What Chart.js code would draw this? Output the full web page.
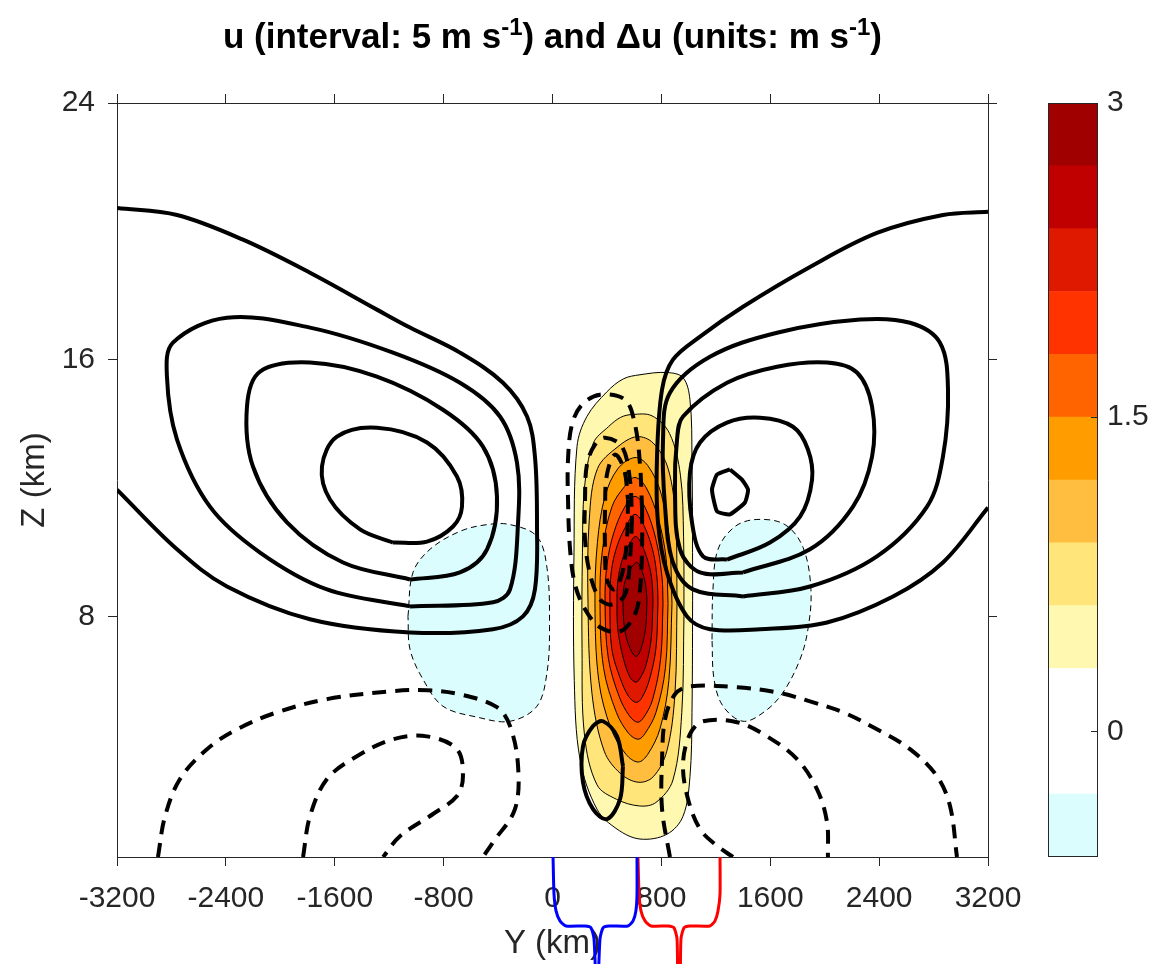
<!DOCTYPE html>
<html>
<head>
<meta charset="utf-8">
<title>u and Δu cross section</title>
<script src="https://cdn.jsdelivr.net/npm/chart.js@4.4.1/dist/chart.umd.min.js"></script>
<style>
  html, body { margin: 0; padding: 0; background: #fff; }
  #wrap { position: relative; width: 1153px; height: 964px; }
  #wrap canvas { position: absolute; left: 0; top: 0; }
</style>
</head>
<body>
<div id="wrap">
  <canvas id="section" width="1153" height="964"></canvas>
  <canvas id="colorbar" width="1153" height="964"></canvas>
</div>
<script>
// Axis ticks
const yTicks = [-3200, -2400, -1600, -800, 0, 800, 1600, 2400, 3200];
const zTicks = [8, 16, 24];
const cbTicks = [0, 1.5, 3];

// Shading levels for du (m/s) and the colour of each band between them
const duLevels = [-0.6, -0.3, 0.3, 0.6, 0.9, 1.2, 1.5, 1.8, 2.1, 2.4, 2.7, 3.0];
const duColors = ['#dcfdfd', '#ffffff', '#fff8b0', '#ffe57a', '#ffbe3f', '#ff9c00',
                  '#ff6400', '#ff3300', '#df1800', '#c00000', '#a10000'];

const titleParts = [
    { text: 'u (interval: 5 m s', sup: false },
    { text: '-1', sup: true },
    { text: ') and \u0394u (units: m s', sup: false },
    { text: '-1', sup: true },
    { text: ')', sup: false }
];

// du contours, points are [Y km, Z km]
const duNegWest = [[-312,10.86],[-114,10.49],[-40,9.5],[-22,7.69],[-40,6.26],[-114,5.2],[-312,4.73],[-555,4.86],
    [-805,5.2],[-952,6.04],[-1047,6.97],[-1062,8.0],[-1025,9.37],[-900,10.09],[-680,10.65],[-480,10.86]];
const duNegEast = [[1502,11.02],[1708,10.86],[1841,10.15],[1899,8.84],[1877,7.6],[1819,6.66],[1694,5.63],[1561,5.04],
    [1400,4.73],[1253,5.2],[1187,6.04],[1172,7.28],[1179,8.84],[1216,10.09],[1341,10.8]];

const du03 = [[643,15.53],[841,15.6],[959,15.44],[1010,14.75],[1025,12.9],[1030,9],[1025,5],[1010,3.0],[959,1.77],
    [841,1.21],[643,1.06],[474,1.37],[327,1.99],[202,3.55],[160,6],[158,10],[180,13.29],[253,14.23],[400,15.0],[520,15.4]];
const du06 = [[584,14.29],[731,14.25],[860,13.7],[940,12.4],[963,10.5],[966,8],[950,5],[885,2.9],[760,2.2],[640,2.09],
    [470,2.3],[327,2.75],[235,4.3],[217,7],[220,10],[235,12],[300,13.4],[411,13.91],[500,14.2]];
const du09 = [[620,13.6],[740,13.4],[850,12.6],[905,11],[915,8.4],[900,5.6],[840,3.8],[740,3.0],[630,2.83],[500,3.1],
    [380,3.8],[290,5.6],[261,8.4],[270,11],[330,12.6],[481,13.29]];
const du12 = [[606,12.95],[700,12.7],[800,11.8],[860,10.3],[878,8.4],[855,6],[790,4.5],[700,3.7],[630,3.46],[540,3.7],
    [430,4.5],[340,6],[312,8.4],[330,10.3],[386,11.74],[480,12.6]];
const du15 = [[606,12.33],[690,12.0],[780,11.0],[835,9.8],[849,8.4],[830,6.4],[760,5.0],[680,4.35],[630,4.17],[560,4.35],
    [470,5.0],[375,6.4],[349,8.4],[365,10.0],[437,11.42],[530,12.05]];
const du18 = [[606,11.74],[680,11.4],[760,10.4],[805,9.2],[812,8.4],[795,6.7],[735,5.4],[670,4.85],[625,4.7],[565,4.9],
    [490,5.5],[410,6.7],[386,8.4],[400,9.6],[450,10.6],[530,11.4]];
const du21 = [[606,11.18],[670,10.85],[740,10.0],[770,9.1],[775,8.4],[760,7.0],[710,6.0],[655,5.45],[615,5.32],[560,5.5],
    [495,6.1],[435,7.0],[422,8.4],[432,9.4],[475,10.2],[545,10.85]];
const du24 = [[612,10.49],[660,10.2],[715,9.5],[735,8.9],[738,8.4],[725,7.3],[685,6.45],[640,6.05],[612,5.95],[570,6.1],
    [520,6.7],[480,7.6],[474,8.4],[480,9.1],[515,9.8],[565,10.25]];
const du27 = [[620,9.68],[655,9.45],[685,8.95],[694,8.5],[686,7.7],[655,7.05],[615,6.75],[570,7.0],[530,7.6],[518,8.5],
    [528,9.0],[570,9.45]];

// u contours, westerly (solid)
const uWest1 = [[-3200,20.73],[-2759,20.51],[-2274,19.74],[-1782,18.71],[-1290,17.56],[-1047,17.0],[-680,16.22],
    [-364,15.28],[-187,14.23],[-129,12.98],[-114,10.93],[-129,8.84],[-217,8.0],[-437,7.6],[-1047,7.5],[-1782,7.91],
    [-2392,8.93],[-2759,10.09],[-3200,11.95]];
const uWest2 = [[-2789,16.53],[-2392,17.31],[-1782,17.0],[-1172,16.22],[-680,15.28],[-386,14.23],[-261,12.79],
    [-253,10.93],[-312,8.84],[-437,8.44],[-1047,8.31],[-1657,8.84],[-2149,9.99],[-2517,11.42],[-2759,13.51],[-2833,15.47]];
const uWest3 = [[-2149,15.63],[-1782,15.91],[-1290,15.47],[-805,14.44],[-511,13.29],[-408,11.74],[-481,10.09],
    [-680,9.37],[-1047,9.15],[-1539,9.68],[-1951,10.93],[-2201,12.67],[-2245,14.54]];
const uWest4 = [[-1584,13.6],[-1290,13.88],[-922,13.42],[-702,12.36],[-665,11.42],[-731,10.8],[-922,10.33],
    [-1172,10.3],[-1414,10.71],[-1635,11.64],[-1694,12.67]];
const uEast1 = [[3200,20.61],[2869,20.51],[2384,19.95],[1892,18.89],[1400,17.65],[1084,16.72],[885,16.0],[805,15.07],
    [768,12.98],[775,10.93],[841,9.37],[988,8.0],[1157,7.6],[1525,7.6],[2017,7.81],[2502,8.62],[2869,9.68],[3200,11.39]];
const uEast2 = [[863,14.97],[1157,16.09],[1650,16.84],[2260,17.25],[2627,17.15],[2847,16.53],[2906,15.07],[2869,12.98],
    [2752,11.42],[2384,9.87],[1892,8.93],[1400,8.62],[1032,8.84],[885,9.68],[827,11.42],[812,13.51]];
const uEast3 = [[959,14.23],[1282,15.28],[1650,15.78],[2017,15.91],[2237,15.6],[2348,14.54],[2348,12.98],[2208,11.42],
    [1892,10.09],[1400,9.37],[1084,9.37],[937,10.09],[900,11.95],[915,13.51]];
const uEast4 = [[1084,13.42],[1282,14.04],[1525,14.19],[1767,13.91],[1877,13.2],[1907,12.26],[1819,11.11],[1598,10.3],
    [1282,9.77],[1106,9.87],[1025,10.93],[1010,12.48]];
const uEast5 = [[1304,12.58],[1392,12.26],[1437,11.95],[1414,11.55],[1304,11.18],[1209,11.27],[1172,11.95],[1209,12.42]];
const uLowCore = [[371,4.73],[474,4.26],[518,3.33],[496,2.3],[400,1.68],[298,1.99],[224,2.83],[224,3.95],[298,4.58]];

// u contours, easterly (dashed)
const uNegWestOuter = [[-2899,0.5],[-2847,1.77],[-2737,2.93],[-2539,3.86],[-2318,4.48],[-2024,5.01],[-1657,5.42],
    [-1172,5.67],[-922,5.7],[-680,5.57],[-408,5.17],[-312,4.58],[-253,3.33],[-276,1.99],[-437,0.96],[-511,0.5]];
const uNegWestInner = [[-1833,0.5],[-1782,1.77],[-1657,2.93],[-1437,3.64],[-1172,4.17],[-922,4.26],[-702,3.86],
    [-658,3.02],[-702,2.4],[-878,1.84],[-1121,1.15],[-1245,0.5]];
const uNegEastOuter = [[863,0.5],[805,1.99],[805,3.55],[827,4.79],[900,5.57],[1010,5.82],[1356,5.79],[1650,5.63],
    [1892,5.35],[2135,5.01],[2384,4.48],[2627,3.86],[2825,3.02],[2921,2.09],[2972,0.5]];
const uNegEastInner = [[1326,0.5],[1194,0.9],[1084,1.37],[996,2.3],[959,3.39],[1010,4.33],[1106,4.73],[1356,4.7],
    [1576,4.26],[1797,3.55],[1944,2.61],[2017,1.59],[2024,0.5]];
const uNegCol1 = [[349,14.91],[533,14.75],[606,13.98],[643,12.73],[658,11.33],[658,10.09],[643,8.84],[606,8.06],
    [496,7.53],[349,7.66],[239,8.22],[165,9.0],[129,10.09],[114,11.64],[114,12.89],[143,13.98],[217,14.6]];
const uNegCol2 = [[386,13.57],[511,13.29],[569,12.26],[584,11.02],[569,9.77],[533,8.68],[437,8.37],[349,8.53],
    [276,9.31],[239,10.4],[239,11.64],[253,12.73],[312,13.35]];
const uNegCol3 = [[459,13.04],[526,12.58],[555,11.64],[547,10.4],[511,9.31],[452,8.84],[400,9.15],[386,10.09],
    [386,11.33],[400,12.42]];

// heating profiles hung below the Y axis
const forcingBlue = [[4,0.5],[11,-0.65],[26,-1.18],[55,-1.49],[99,-1.65],[239,-1.65],[283,-1.71],[305,-2.05],[320,-3.4],
    [334,-3.4],[349,-2.05],[371,-1.71],[415,-1.65],[555,-1.65],[592,-1.49],[613,-1.18],[621,-0.65],[621,0.5]];
const forcingRed = [[628,0.5],[636,-0.65],[650,-1.18],[680,-1.49],[724,-1.65],[849,-1.65],[893,-1.71],[915,-2.05],[922,-3.4],
    [937,-3.4],[944,-2.05],[966,-1.71],[1010,-1.65],[1157,-1.65],[1194,-1.49],[1216,-1.18],[1231,-0.65],[1231,0.5]];

const AXIS_COLOR = '#262626';
Chart.defaults.font.family = '"Liberation Sans", Arial, Helvetica, sans-serif';
Chart.defaults.color = AXIS_COLOR;

// closed loops start at a smooth stretch of the curve so the seam does not kink
function toPoints(arr, closed, start) {
    const k = start || 0;
    const ordered = arr.slice(k).concat(arr.slice(0, k));
    const out = ordered.map(([y, z]) => ({ x: y, y: z }));
    if (closed) out.push({ ...out[0] });
    return out;
}

function contourLine(arr, closed, dashed, start, extra) {
    return Object.assign({
        data: toPoints(arr, closed, start),
        borderColor: '#000',
        borderWidth: 4,
        borderDash: dashed ? [14, 9] : [],
        fill: false,
        tension: 0.35,
        order: 5
    }, extra || {});
}

const datasets = [];

// shaded negative du
[[duNegWest, 11], [duNegEast, 11]].forEach(([arr, s]) => {
    datasets.push({
        data: toPoints(arr, true, s),
        fill: 'shape',
        backgroundColor: duColors[0],
        borderColor: '#000',
        borderWidth: 1,
        borderDash: [6, 4],
        tension: 0.35,
        order: 100
    });
});

// shaded positive du, outer band first
[[du03, 5], [du06, 5], [du09, 4], [du12, 4], [du15, 4], [du18, 4], [du21, 4], [du24, 4], [du27, 3]].forEach(([arr, s], i) => {
    datasets.push({
        data: toPoints(arr, true, s),
        fill: 'shape',
        backgroundColor: duColors[i + 2],
        borderColor: '#000',
        borderWidth: 1,
        tension: 0.35,
        order: 90 - i
    });
});

datasets.push(contourLine(uWest1, false, false));
datasets.push(contourLine(uEast1, false, false));
[[uWest2, 10], [uWest3, 8], [uWest4, 7], [uEast2, 11], [uEast3, 9], [uEast4, 8], [uLowCore, 2]]
    .forEach(([a, s]) => datasets.push(contourLine(a, true, false, s)));
datasets.push(contourLine(uEast5, true, false, 0, { tension: 0.15 }));
[uNegWestOuter, uNegWestInner, uNegEastOuter, uNegEastInner].forEach(a => datasets.push(contourLine(a, false, true)));
[[uNegCol1, 4], [uNegCol2, 3], [uNegCol3, 2]].forEach(([a, s]) => datasets.push(contourLine(a, true, true, s)));

const belowAxis = { left: 0, top: 0, right: 0, bottom: false };
datasets.push({ data: toPoints(forcingBlue), borderColor: '#0000ff', borderWidth: 3, tension: 0.2, clip: belowAxis, order: 1 });
datasets.push({ data: toPoints(forcingRed), borderColor: '#ff0000', borderWidth: 3, tension: 0.2, clip: belowAxis, order: 1 });

const tickGrid = { drawOnChartArea: false, drawTicks: true, tickLength: 9, color: AXIS_COLOR, lineWidth: 1 };
const frameBorder = { display: true, color: AXIS_COLOR, width: 1 };

const sectionTitle = {
    id: 'sectionTitle',
    afterDraw(chart) {
        const { ctx, chartArea } = chart;
        const big = 'bold 35px "Liberation Sans", Arial, sans-serif';
        const small = 'bold 24px "Liberation Sans", Arial, sans-serif';
        ctx.save();
        let total = 0;
        titleParts.forEach(p => {
            ctx.font = p.sup ? small : big;
            total += ctx.measureText(p.text).width;
        });
        let x = (chartArea.left + chartArea.right) / 2 - total / 2;
        const base = 48;
        ctx.fillStyle = '#000';
        ctx.textAlign = 'left';
        ctx.textBaseline = 'alphabetic';
        titleParts.forEach(p => {
            ctx.font = p.sup ? small : big;
            ctx.fillText(p.text, x, p.sup ? base - 13 : base);
            x += ctx.measureText(p.text).width;
        });
        ctx.restore();
    }
};

new Chart(document.getElementById('section'), {
    type: 'line',
    data: { datasets },
    options: {
        responsive: false,
        animation: false,
        devicePixelRatio: 1,
        events: [],
        elements: {
            point: { radius: 0, hitRadius: 0 },
            line: { capBezierPoints: false, borderJoinStyle: 'round', borderCapStyle: 'butt' }
        },
        plugins: { legend: { display: false }, tooltip: { enabled: false }, title: { display: false } },
        scales: {
            x: {
                type: 'linear', position: 'bottom', min: -3200, max: 3200,
                afterBuildTicks: s => { s.ticks = yTicks.map(v => ({ value: v })); },
                afterFit: s => { s.height = 107; },
                ticks: { autoSkip: false, maxRotation: 0, padding: 15, font: { size: 30 }, color: AXIS_COLOR,
                         callback: v => String(v) },
                grid: tickGrid,
                border: frameBorder,
                title: { display: true, text: 'Y (km)', font: { size: 33 }, color: AXIS_COLOR, padding: { top: 0, bottom: 0 } }
            },
            x2: {
                type: 'linear', position: 'top', min: -3200, max: 3200,
                afterBuildTicks: s => { s.ticks = yTicks.map(v => ({ value: v })); },
                afterFit: s => { s.height = 103; },
                ticks: { display: false },
                grid: tickGrid,
                border: frameBorder
            },
            y: {
                type: 'linear', position: 'left', min: 0.5, max: 24,
                afterBuildTicks: s => { s.ticks = zTicks.map(v => ({ value: v })); },
                afterFit: s => { s.width = 117; },
                ticks: { padding: 13, font: { size: 30 }, color: AXIS_COLOR, callback: v => String(v) },
                grid: tickGrid,
                border: frameBorder,
                title: { display: true, text: 'Z (km)', font: { size: 33 }, color: AXIS_COLOR, padding: { top: 15, bottom: 0 } }
            },
            y2: {
                type: 'linear', position: 'right', min: 0.5, max: 24,
                afterBuildTicks: s => { s.ticks = zTicks.map(v => ({ value: v })); },
                afterFit: s => { s.width = 165; },
                ticks: { display: false },
                grid: tickGrid,
                border: frameBorder
            }
        }
    },
    plugins: [sectionTitle]
});

// Colour bar: one floating bar per shading band
const colorbarFrame = {
    id: 'colorbarFrame',
    afterDraw(chart) {
        const { ctx, chartArea } = chart;
        const scale = chart.scales.y;
        ctx.save();
        ctx.strokeStyle = AXIS_COLOR;
        ctx.lineWidth = 1;
        ctx.strokeRect(chartArea.left + 0.5, chartArea.top + 0.5,
            chartArea.right - chartArea.left - 1, chartArea.bottom - chartArea.top - 1);
        cbTicks.forEach(v => {
            const y = Math.round(scale.getPixelForValue(v)) + 0.5;
            ctx.beginPath();
            ctx.moveTo(chartArea.right - 7, y);
            ctx.lineTo(chartArea.right, y);
            ctx.stroke();
        });
        ctx.restore();
    }
};

const bandSets = duColors.map((c, i) => ({
    data: [[duLevels[i], duLevels[i + 1]]],
    backgroundColor: c,
    borderWidth: 0,
    grouped: false,
    barPercentage: 1,
    categoryPercentage: 1
}));

new Chart(document.getElementById('colorbar'), {
    type: 'bar',
    data: { labels: ['du'], datasets: bandSets },
    options: {
        responsive: false,
        animation: false,
        devicePixelRatio: 1,
        events: [],
        layout: { padding: { left: 1048, top: 103, bottom: 107, right: 0 } },
        plugins: { legend: { display: false }, tooltip: { enabled: false } },
        scales: {
            x: { display: false },
            y: {
                position: 'right', min: -0.6, max: 3,
                afterBuildTicks: s => { s.ticks = cbTicks.map(v => ({ value: v })); },
                afterFit: s => { s.width = 55; },
                ticks: { padding: 9, font: { size: 30 }, color: AXIS_COLOR, callback: v => String(v) },
                grid: { display: false, drawTicks: false },
                border: { display: false }
            }
        }
    },
    plugins: [colorbarFrame]
});
</script>
</body>
</html>
